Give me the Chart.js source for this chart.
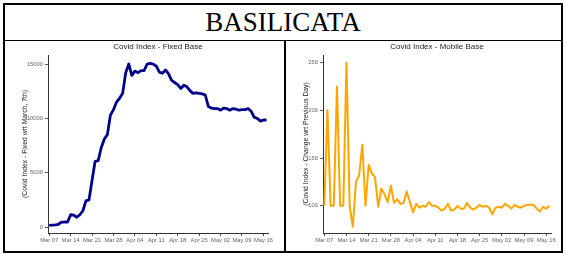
<!DOCTYPE html>
<html>
<head>
<meta charset="utf-8">
<title>Basilicata</title>
<script src="https://cdn.jsdelivr.net/npm/chart.js@4"></script>
<style>
  body { margin: 0; background: #fff; }
  #wrap { position: relative; width: 566px; height: 255px; overflow: hidden; }
  #frame { position: absolute; left: 3px; top: 3px; width: 560px; height: 250px; border: 2px solid #000; box-sizing: border-box; }
  #title { position: absolute; left: 5px; top: 5px; width: 556px; height: 35px; line-height: 35px; text-align: center;
           font-family: 'Liberation Serif', 'Times New Roman', serif; font-size: 27px; color: #000; }
  #hline { position: absolute; left: 5px; top: 40px; width: 556px; height: 1px; background: #000; }
  #vline { position: absolute; left: 284px; top: 41px; width: 2px; height: 210px; background: #000; }
  canvas { position: absolute; }
  #fixedChart { left: 5px; top: 42px; }
  #mobileChart { left: 286px; top: 42px; }
</style>
</head>
<body>
<div id="wrap">
  <div id="frame"></div>
  <div id="title">BASILICATA</div>
  <div id="hline"></div>
  <div id="vline"></div>
  <canvas id="fixedChart" width="279" height="209"></canvas>
  <canvas id="mobileChart" width="275" height="209"></canvas>
</div>
<script>
'use strict';

// one value per day, Mar 07 -> May 17
const fixedBase = [
  150, 180, 200, 250, 450, 460, 460, 1130, 1100, 900,
  1130, 1500, 2400, 2500, 4300, 6050, 6100, 7300, 8100, 8500,
  10300, 10800, 11500, 11850, 12300, 14200, 15000, 13950, 14350, 14200,
  14400, 14400, 15000, 15050, 15000, 14800, 14250, 14150, 14450, 14100,
  13500, 13300, 13100, 12750, 13050, 12900, 12550, 12300, 12350, 12300,
  12250, 12150, 11100, 10950, 10900, 10900, 10750, 10950, 10900, 10750,
  10900, 10850, 10750, 10800, 10800, 10900, 10650, 10100, 10000, 9750,
  9850, 9850
];

const mobileBase = [
  100, 200, 100, 100, 225, 100, 100, 250, 100, 78,
  125, 132, 164, 100, 143, 134, 130, 99, 118, 112,
  104, 121, 103, 107, 102, 103, 115, 104, 93, 102,
  98, 100, 99, 104, 100, 100, 98, 95, 97, 102,
  95, 96, 100, 97, 97, 103, 98, 96, 98, 101,
  99, 100, 98, 91, 98, 99, 98, 102, 100, 97,
  101, 99, 98, 100, 101, 101, 101, 97, 94, 99,
  97, 100
];

const tickDays = [0, 7, 14, 21, 28, 35, 42, 49, 56, 63, 70];
const tickLabels = ['Mar 07', 'Mar 14', 'Mar 21', 'Mar 28', 'Apr 04', 'Apr 11', 'Apr 18', 'Apr 25', 'May 02', 'May 09', 'May 16'];
const fixedTicks = [0, 5000, 10000, 15000];
const mobileTicks = [100, 150, 200, 250];

function makeChart(canvasEl, values, cfg) {
  let points = values.map((v, i) => ({ x: i, y: v }));
  return new Chart(canvasEl, {
    type: 'line',
    data: {
      datasets: [{
        data: points,
        borderColor: cfg.color,
        borderWidth: cfg.lineWidth,
        pointRadius: 0,
        tension: 0,
        borderJoinStyle: 'round'
      }]
    },
    options: {
      responsive: false,
      animation: false,
      layout: { padding: { left: 0, right: cfg.rightPad, top: 0, bottom: 0 } },
      plugins: {
        legend: { display: false },
        tooltip: { enabled: false },
        title: {
          display: true,
          text: cfg.title,
          fullSize: false,
          color: '#222',
          font: { family: 'Liberation Sans, Arial, sans-serif', size: 8, weight: 'normal' },
          padding: { top: 0.2, bottom: 3.2 }
        }
      },
      scales: {
        x: {
          type: 'linear',
          min: -0.4,
          max: 71.5,
          afterBuildTicks: s => { s.ticks = tickDays.map(d => ({ value: d })); },
          afterFit: s => { s.height = 18; },
          ticks: {
            autoSkip: false,
            maxRotation: 0,
            padding: 1,
            color: '#666',
            font: { family: 'Liberation Sans, Arial, sans-serif', size: 5.8 },
            callback: v => tickLabels[tickDays.indexOf(v)]
          },
          grid: { drawOnChartArea: false, tickLength: 3, color: '#555' },
          border: { color: '#333', width: 1 }
        },
        y: {
          min: cfg.yMin,
          max: cfg.yMax,
          afterBuildTicks: s => { s.ticks = cfg.yTicks.map(v => ({ value: v })); },
          afterFit: s => { s.width = cfg.yWidth; },
          ticks: {
            padding: 2,
            color: '#666',
            font: { family: 'Liberation Sans, Arial, sans-serif', size: 5.8 },
            callback: v => String(v)
          },
          grid: { drawOnChartArea: false, tickLength: 3, color: '#555' },
          border: { color: '#333', width: 1 },
          title: {
            display: true,
            text: cfg.yTitle,
            color: '#222',
            font: { family: 'Liberation Sans, Arial, sans-serif', size: 6.8 },
            padding: { top: 16, bottom: 0 }
          }
        }
      }
    }
  });
}

makeChart(document.getElementById('fixedChart'), fixedBase, {
  color: '#00008B',
  lineWidth: 2.8,
  title: 'Covid Index - Fixed Base',
  yTitle: '(Covid Index - Fixed wrt March, 7th)',
  yMin: -550,
  yMax: 15830,
  yTicks: fixedTicks,
  yWidth: 43,
  rightPad: 16
});

makeChart(document.getElementById('mobileChart'), mobileBase, {
  color: '#FFA500',
  lineWidth: 2,
  title: 'Covid Index - Mobile Base',
  yTitle: '(Covid Index - Change wrt Previous Day)',
  yMin: 71.5,
  yMax: 258,
  yTicks: mobileTicks,
  yWidth: 37,
  rightPad: 10
});
</script>
</body>
</html>
